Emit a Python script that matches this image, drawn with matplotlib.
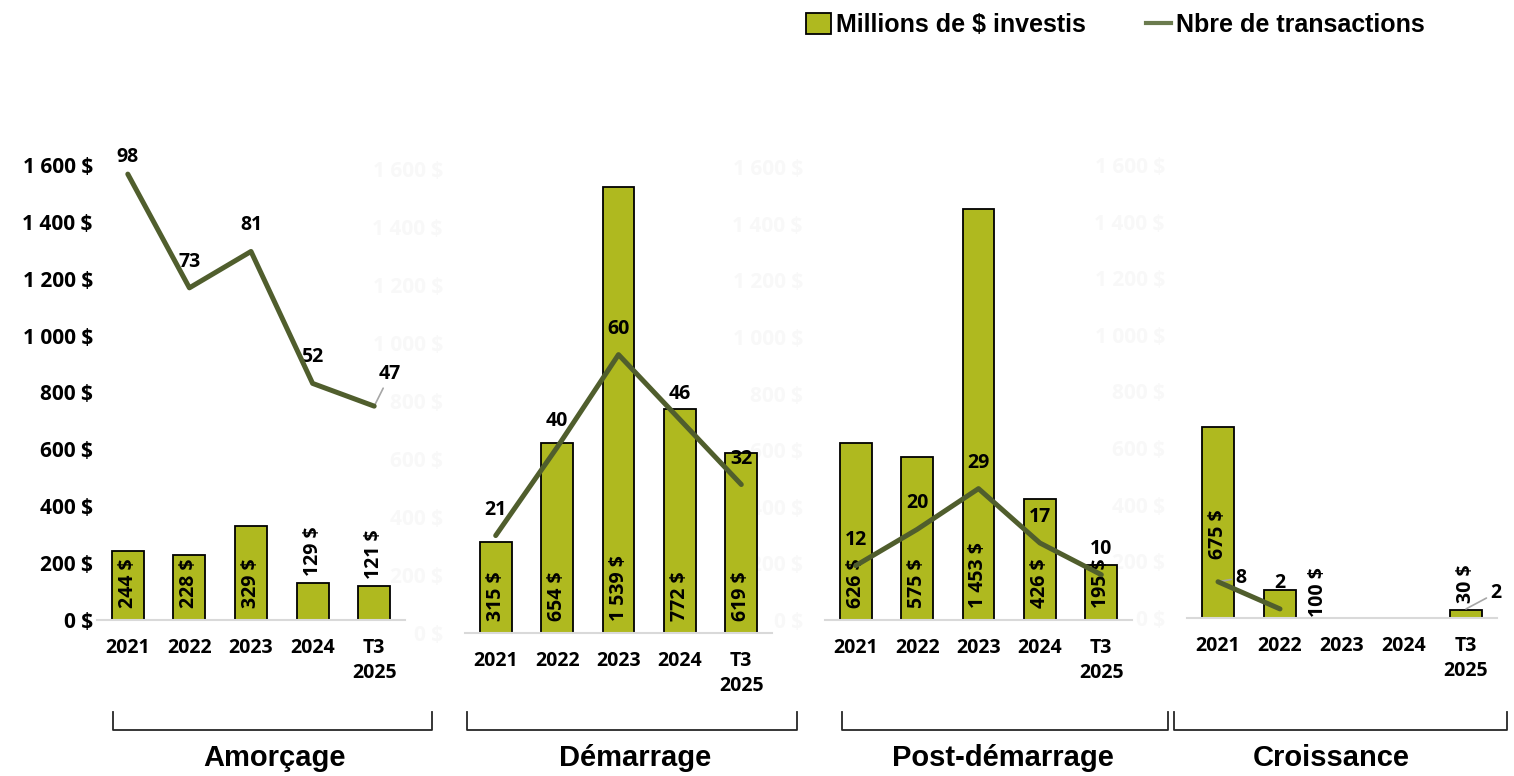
import numpy as np
import matplotlib
matplotlib.use("Agg")
import matplotlib.pyplot as plt
from matplotlib.patches import Patch
from matplotlib.lines import Line2D

plt.rcParams['font.family'] = ['Open Sans', 'DejaVu Sans']
plt.rcParams['font.weight'] = 'bold'

# données
periodes = ['2021', '2022', '2023', '2024', 'T3\n2025']
stades = ['Amorçage', 'Démarrage', 'Post-démarrage', 'Croissance']

invest_amorcage = [244, 228, 329, 129, 121]
invest_demarrage = [315, 654, 1539, 772, 619]
invest_post = [626, 575, 1453, 426, 195]
invest_croissance = [675, 100, 0, 0, 30]

trans_amorcage = [98, 73, 81, 52, 47]
trans_demarrage = [21, 40, 60, 46, 32]
trans_post = [12, 20, 29, 17, 10]
trans_croissance = [8, 2, np.nan, np.nan, 2]

yticks = [0, 200, 400, 600, 800, 1000, 1200, 1400, 1600]

BAR = '#afb91f'
LINE = '#505e2d'
GRIS = '#a6a6a6'
TITRES = ['Liberation Sans', 'DejaVu Sans']

W, H = 1514, 776
fig = plt.figure(figsize=(W / 100, H / 100), dpi=100)


def boite(g, d, bas, haut):
    return [g / W, 1 - bas / H, (d - g) / W, (bas - haut) / H]


# (gauche, droite, bas, haut) en pixels
cadres = [(97, 405, 620, 165), (465, 772, 633, 169),
          (825, 1132, 620, 167), (1187, 1497, 618, 165)]
invests = [invest_amorcage, invest_demarrage, invest_post, invest_croissance]
transs = [trans_amorcage, trans_demarrage, trans_post, trans_croissance]

# étiquettes déplacées : (panneau, index) -> (dx, dy) en pixels depuis la base
speciaux_barres = {(3, 0): (0, 59), (3, 1): (38, 1)}
speciaux_lignes = {(0, 0): (0, 17), (0, 4): (16, 32), (3, 0): (23, 4), (3, 4): (30, 16)}

x = np.arange(len(periodes))
for p in range(4):
    ax = fig.add_axes(boite(*cadres[p]))
    ax.set_zorder(10 - 2 * p)
    vals = invests[p]
    for i, v in enumerate(vals):
        if v > 0:
            ax.bar(i, v, width=0.52, color=BAR, edgecolor='black', linewidth=1.3, zorder=2)
    ax.set_xlim(-0.5, 4.5)
    ax.set_ylim(0, 1600)
    ax.set_xticks(x)
    ax.set_xticklabels(periodes, fontsize=14, fontweight='bold', linespacing=1.3)
    ax.set_yticks(yticks)
    ax.set_yticklabels([f"{v:,} $".replace(',', ' ') for v in yticks], fontsize=15, fontweight='bold')
    ax.tick_params(axis='x', length=0, pad=13)
    if p == 0:
        ax.tick_params(axis='y', length=0, pad=3)
    else:
        ax.tick_params(axis='y', length=0, pad=16, labelcolor='#f8f8f8')
    for s in ['top', 'right', 'left']:
        ax.spines[s].set_visible(False)
    ax.spines['bottom'].set_color('#d9d9d9')
    ax.spines['bottom'].set_linewidth(1.5)
    ax.patch.set_alpha(0)

    # étiquettes des barres
    px_par_unite = (cadres[p][2] - cadres[p][3]) / 1600
    for i, v in enumerate(vals):
        if v <= 0:
            continue
        txt = f"{v:,} $".replace(',', ' ')
        if (p, i) in speciaux_barres:
            dx, dy = speciaux_barres[(p, i)]
            xy = (i, 0)
        elif v * px_par_unite > 50:
            xy, dx, dy = (i, 0), 0, 12
        else:
            xy, dx, dy = (i, v), 0, 7
        ax.annotate(txt, xy=xy, xytext=(dx, dy), textcoords='offset pixels',
                    rotation=90, ha='center', va='bottom', fontsize=14,
                    fontweight='bold', zorder=3)

    # nombre de transactions
    ax2 = ax.twinx()
    ax2.set_zorder(11 - 2 * p)
    ax2.set_ylim(0, 100)
    ax2.axis('off')
    t = transs[p]
    ax2.plot(x, t, color=LINE, linewidth=3.6, solid_capstyle='round', zorder=4)
    for i, n in enumerate(t):
        if np.isnan(n):
            continue
        if (p, i) in speciaux_lignes:
            dx, dy = speciaux_lignes[(p, i)]
            arrow = None
            if dx != 0:
                arrow = dict(arrowstyle='-', color=GRIS, lw=1.2, shrinkA=1, shrinkB=0)
            ax2.annotate(f"{n:.0f}", xy=(i, n), xytext=(dx, dy), textcoords='offset pixels',
                         ha='center', va='center', fontsize=14, fontweight='bold',
                         arrowprops=arrow, annotation_clip=False)
        else:
            ax2.annotate(f"{n:.0f}", xy=(i, n), xytext=(0, 26), textcoords='offset pixels',
                         ha='center', va='center', fontsize=14, fontweight='bold',
                         annotation_clip=False)

# accolades et noms des stades
crochets = [(113, 432), (467, 797), (842, 1168), (1174, 1507)]
centres = [275, 635, 1003, 1331]
for (g, d), c, nom in zip(crochets, centres, stades):
    fig.add_artist(Line2D([g / W, g / W, d / W, d / W],
                          [1 - 712 / H, 1 - 730 / H, 1 - 730 / H, 1 - 712 / H],
                          color='#262626', linewidth=1.3))
    fig.text(c / W, 1 - 744 / H, nom, ha='center', va='top', fontsize=21,
             fontweight='bold', family=TITRES)

poignees = [Patch(facecolor=BAR, edgecolor='black', linewidth=1.3),
            Line2D([0], [0], color='#6b7b4e', linewidth=3)]
fig.legend(poignees, ['Millions de $ investis', 'Nbre de transactions'],
           loc='center', bbox_to_anchor=(1115 / W, 1 - 25 / H), ncol=2, frameon=False,
           prop={'family': TITRES, 'weight': 'bold', 'size': 18},
           handlelength=1.0, handleheight=0.9, handletextpad=0.2, columnspacing=2.4)

fig.savefig('out.png', dpi=100)
